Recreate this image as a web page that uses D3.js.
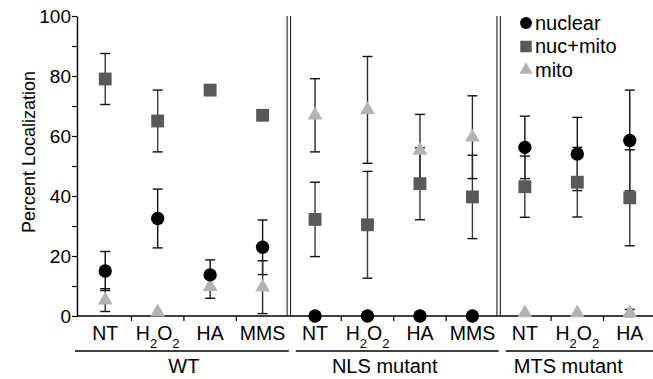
<html>
<meta charset="utf-8" />
<head>
<title>Percent Localization</title>
<style>
body { margin: 0; background: #fff; }
svg { display: block; }
svg text { font-family: "Liberation Sans", Arial, sans-serif; fill: #000; }
</style>
<script src="https://d3js.org/d3.v7.min.js" charset="utf-8"></script>
</head>
<body>
<svg class="chart"></svg>

<script>
var chartWidth = 653;
var chartHeight = 379;

// treatments along the x axis, in order
var treatments = ["NT", "H2O2", "HA", "MMS", "NT", "H2O2", "HA", "MMS", "NT", "H2O2", "HA"];
var groups = ["WT", "NLS mutant", "MTS mutant"];
var groupOf = [0, 0, 0, 0, 1, 1, 1, 1, 2, 2, 2];

// mean percent and error (+/-)
var nuclear    = [15.0, 32.5, 13.7, 22.9, 0, 0, 0, 0, 56.2, 54.0, 58.5];
var nuclearErr = [6.5, 9.8, 5.0, 9.1, 0, 0, 0, 0, 10.4, 12.2, 16.8];
var nucMito    = [79.0, 65.0, 75.3, 66.9, 32.2, 30.4, 44.1, 39.7, 43.1, 44.6, 39.4];
var nucMitoErr = [8.5, 10.3, 1.0, 0.8, 12.4, 17.8, 12.0, 13.9, 10.2, 11.6, 16.0];
var mito       = [5.3, 1.3, 9.8, 9.6, 66.9, 68.7, 55.2, 59.6, 1.0, 1.0, 1.0];
var mitoErr    = [3.8, 0, 3.9, 8.8, 12.2, 17.8, 12.0, 13.8, 0, 0, 1.2];

var yTicks = [0, 10, 20, 30, 40, 50, 60, 70, 80, 90, 100];

var series = [
  { name: "nuclear",  values: nuclear, errs: nuclearErr, symbol: d3.symbolCircle,   size: 140, fill: "#000000", bar: "#111111" },
  { name: "nuc+mito", values: nucMito, errs: nucMitoErr, symbol: d3.symbolSquare,   size: 165, fill: "#595959", bar: "#3a3a3a" },
  { name: "mito",     values: mito,    errs: mitoErr,    symbol: d3.symbolTriangle, size: 95,  fill: "#b3b3b3", bar: "#2a2a2a" }
];

var svg = d3.select(".chart")
  .attr("width", chartWidth)
  .attr("height", chartHeight);

var y = d3.scaleLinear().domain([0, 100]).range([316, 16]);
var x = d3.scaleBand().domain(d3.range(treatments.length)).range([79, 656]);
var cx = function(i) { return x(i) + x.bandwidth() / 2; };

// y axis
var yAxis = svg.append("g")
  .attr("transform", "translate(77,0)")
  .call(d3.axisLeft(y).tickValues(yTicks)
    .tickFormat(function(d) { return d % 20 === 0 ? d : ""; })
    .tickSize(5).tickSizeOuter(0).tickPadding(1));
yAxis.select(".domain").attr("stroke-width", 1.4);
yAxis.selectAll(".tick line").attr("stroke-width", 1.2);
yAxis.selectAll("text").style("font-size", "19px").attr("fill", "#000");

svg.append("text")
  .attr("transform", "translate(35,152) rotate(-90)")
  .attr("text-anchor", "middle")
  .style("font-size", "18px")
  .text("Percent Localization");

// x axis line and ticks between treatments
svg.append("line")
  .attr("x1", 77).attr("x2", chartWidth).attr("y1", y(0)).attr("y2", y(0))
  .attr("stroke", "#000").attr("stroke-width", 1.4);

var inner = d3.range(1, treatments.length).filter(function(i) { return groupOf[i] === groupOf[i - 1]; });
var breaks = d3.range(1, treatments.length).filter(function(i) { return groupOf[i] !== groupOf[i - 1]; });

svg.selectAll(".xtick").data(inner).enter().append("line")
  .attr("class", "xtick")
  .attr("x1", function(i) { return x(i); }).attr("x2", function(i) { return x(i); })
  .attr("y1", y(0)).attr("y2", y(0) + 5)
  .attr("stroke", "#000").attr("stroke-width", 1.2);

// double separators between strains
breaks.forEach(function(i) {
  [-1.7, 1.7].forEach(function(off) {
    svg.append("line")
      .attr("x1", x(i) + off).attr("x2", x(i) + off)
      .attr("y1", y(100)).attr("y2", y(0))
      .attr("stroke", "#222").attr("stroke-width", 1.1);
  });
});

// treatment labels
var lab = svg.selectAll(".xlab").data(treatments).enter().append("text")
  .attr("class", "xlab")
  .attr("x", function(d, i) { return cx(i); })
  .attr("y", 339.5)
  .attr("text-anchor", "middle")
  .style("font-size", "19.5px");
lab.each(function(d) {
  var t = d3.select(this);
  if (d === "H2O2") {
    t.append("tspan").text("H");
    t.append("tspan").attr("dy", 8).style("font-size", "13px").text("2");
    t.append("tspan").attr("dy", -8).text("O");
    t.append("tspan").attr("dy", 8).style("font-size", "13px").text("2");
  } else {
    t.text(d);
  }
});

// strain group lines and labels
groups.forEach(function(g, gi) {
  var idx = d3.range(treatments.length).filter(function(i) { return groupOf[i] === gi; });
  var first = idx[0], last = idx[idx.length - 1];
  var left = gi === 0 ? 75 : x(first) + 7;
  var right = gi === groups.length - 1 ? chartWidth : x(last) + x.bandwidth();
  svg.append("line")
    .attr("x1", left).attr("x2", right).attr("y1", 351).attr("y2", 351)
    .attr("stroke", "#000").attr("stroke-width", 1.3);
  var mid = (cx(first) + cx(last)) / 2 - (gi === 0 ? 0 : 9);
  svg.append("text")
    .attr("x", mid).attr("y", 373)
    .attr("text-anchor", "middle")
    .style("font-size", "20px")
    .text(g);
});

// error bars
series.forEach(function(s) {
  var g = svg.append("g");
  s.values.forEach(function(v, i) {
    var e = s.errs[i];
    if (!e) return;
    var xc = cx(i);
    g.append("line").attr("x1", xc).attr("x2", xc).attr("y1", y(v - e)).attr("y2", y(v + e))
      .attr("stroke", s.bar).attr("stroke-width", 1.4);
    [v - e, v + e].forEach(function(w) {
      g.append("line").attr("x1", xc - 5).attr("x2", xc + 5).attr("y1", y(w)).attr("y2", y(w))
        .attr("stroke", "#111").attr("stroke-width", 1.4);
    });
  });
});

// markers (mito first, nuclear on top)
series.slice().reverse().forEach(function(s) {
  svg.append("g").selectAll("path").data(s.values).enter().append("path")
    .attr("d", d3.symbol().type(s.symbol).size(s.size))
    .attr("transform", function(d, i) { return "translate(" + cx(i) + "," + y(d) + ")"; })
    .attr("fill", s.fill);
});

// legend
var legend = svg.append("g").attr("transform", "translate(526,0)");
series.forEach(function(s, i) {
  var ly = 23 + i * 23.5;
  legend.append("path")
    .attr("d", d3.symbol().type(s.symbol).size(s.size * 0.8))
    .attr("transform", "translate(0," + ly + ")")
    .attr("fill", s.fill);
  legend.append("text")
    .attr("x", 9).attr("y", ly + 6.5)
    .style("font-size", "20px")
    .text(s.name);
});
</script>
</body>
</html>
